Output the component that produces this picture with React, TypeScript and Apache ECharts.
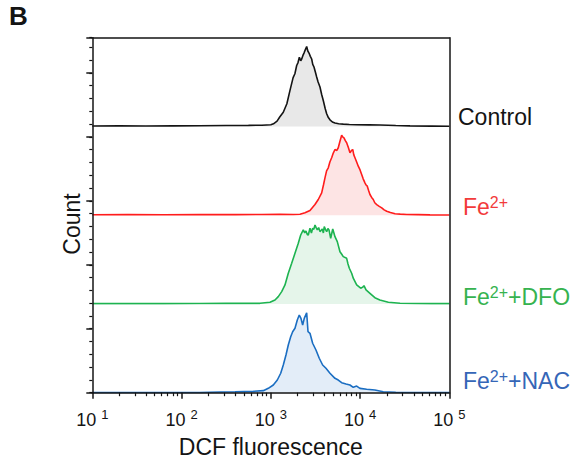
import React, { useEffect, useRef } from 'react';
import * as echarts from 'echarts';

// ---- data (x = log10 of DCF fluorescence, y = relative count, % of panel) ----
const ctrlLog = [1.0, 1.3, 1.6, 1.9, 2.2, 2.5, 2.75, 2.9, 3.0, 3.03, 3.07, 3.1, 3.14, 3.18, 3.215, 3.25, 3.27, 3.29, 3.305, 3.32, 3.335, 3.346, 3.36, 3.372, 3.385, 3.402, 3.415, 3.428, 3.443, 3.458, 3.47, 3.484, 3.5, 3.514, 3.53, 3.551, 3.57, 3.588, 3.61, 3.626, 3.645, 3.663, 3.69, 3.719, 3.76, 3.812, 3.88, 3.962, 4.1, 4.224, 4.4, 4.56, 4.8, 5.0];
const ctrlCount = [0.5, 0.6, 0.5, 0.7, 0.8, 1.0, 1.2, 1.4, 2.0, 3.0, 6.0, 10.6, 16, 25.6, 40.6, 55, 59.4, 68.7, 72, 78, 74, 76, 80, 82.7, 86, 90, 85, 82.7, 79, 76, 70, 67, 61, 55.7, 50, 44.4, 36, 29.3, 20, 14.3, 10, 7.5, 5, 3.8, 3.0, 2.6, 2.2, 1.9, 1.8, 1.6, 1.0, 0.6, 0.4, 0.3];

const feLog = [1.0, 1.4, 1.8, 2.2, 2.6, 2.9, 3.1, 3.25, 3.327, 3.383, 3.439, 3.495, 3.532, 3.57, 3.59, 3.607, 3.625, 3.644, 3.662, 3.682, 3.70, 3.719, 3.74, 3.756, 3.775, 3.794, 3.808, 3.820, 3.835, 3.850, 3.87, 3.887, 3.905, 3.918, 3.93, 3.943, 3.962, 3.980, 4.0, 4.018, 4.035, 4.055, 4.068, 4.081, 4.095, 4.111, 4.13, 4.148, 4.165, 4.187, 4.215, 4.243, 4.27, 4.299, 4.34, 4.392, 4.45, 4.523, 4.65, 4.784, 5.0];
const feCount = [0.5, 0.6, 0.5, 0.6, 0.7, 0.8, 0.9, 0.8, 1.0, 2.7, 5.3, 12, 17.7, 25.2, 34, 42, 50, 53.4, 60, 64.7, 70, 74, 73, 76, 83.4, 90, 88, 87.2, 84, 81.6, 76, 70.3, 73, 74, 68, 64.7, 60, 55.2, 51, 45.9, 41, 36.5, 34, 32.7, 28, 23.3, 20, 17.7, 14, 12, 10, 8.3, 6, 4.5, 3, 1.6, 1.2, 0.8, 0.6, 0.4, 0.3];

const dfoLog = [1.0, 1.4, 1.8, 2.2, 2.5, 2.75, 2.879, 2.991, 3.047, 3.084, 3.122, 3.159, 3.196, 3.234, 3.271, 3.308, 3.335, 3.364, 3.38, 3.394, 3.41, 3.420, 3.439, 3.455, 3.469, 3.482, 3.495, 3.508, 3.521, 3.536, 3.551, 3.565, 3.577, 3.589, 3.599, 3.612, 3.626, 3.64, 3.652, 3.671, 3.694, 3.707, 3.719, 3.745, 3.775, 3.795, 3.812, 3.850, 3.865, 3.880, 3.906, 3.924, 3.962, 4.007, 4.03, 4.044, 4.067, 4.111, 4.166, 4.222, 4.317, 4.448, 4.6, 4.8, 5.0];
const dfoCount = [0.4, 0.5, 0.4, 0.5, 0.6, 0.6, 0.7, 1.9, 4.5, 8.3, 13.9, 21.4, 34.6, 45.9, 57.1, 68.4, 77.7, 83.4, 80, 82.3, 78, 77.7, 85.3, 80, 85.3, 84, 89, 86, 83.4, 86, 81.5, 83, 84.5, 80, 87.1, 84, 81.5, 85, 83.4, 74, 84.5, 80, 75.8, 70.2, 58.9, 56, 53.3, 51.4, 45, 40.2, 34.6, 29, 21.4, 17.7, 19, 20.6, 15.8, 12, 7.1, 4.5, 1.9, 0.8, 0.5, 0.4, 0.4];

const nacLog = [1.0, 1.4, 1.8, 2.2, 2.431, 2.6, 2.804, 2.916, 2.972, 3.028, 3.073, 3.111, 3.140, 3.170, 3.196, 3.223, 3.245, 3.271, 3.297, 3.319, 3.338, 3.357, 3.375, 3.402, 3.417, 3.439, 3.469, 3.506, 3.543, 3.581, 3.618, 3.663, 3.719, 3.756, 3.794, 3.843, 3.887, 3.924, 3.962, 3.999, 4.074, 4.166, 4.260, 4.4, 4.6, 4.8, 5.0];
const nacCount = [0.2, 0.3, 0.2, 0.3, 0.8, 1.0, 1.5, 2.3, 4.9, 8.7, 14.3, 21.9, 31.2, 42.5, 53.7, 63.1, 68.7, 72.6, 81.9, 87.5, 83.8, 76.3, 83.8, 90.1, 68.7, 66.9, 55.7, 48.1, 38.8, 31.2, 27.5, 21.9, 16.2, 14.3, 11.3, 9.8, 8.7, 6.1, 7.5, 4.9, 3.8, 3.0, 1.1, 0.5, 0.3, 0.2, 0.2];

const decades = [1, 2, 3, 4];
const minorMultipliers = [2, 3, 4, 5, 6, 7, 8, 9];
const xMin = 1;
const xMax = 5;
const countAxisMax = 5.55;

const lineColors = ['#141414', '#ff1c1c', '#1db350', '#1b6ec2'];
const fillColors = ['#e8e8e8', '#fde4e4', '#e5f5ea', '#e3edf8'];
const labelColors = ['#141414', '#f23b3b', '#36b34f', '#3566b7'];

const FONT = '"Liberation Sans", Arial, Helvetica, sans-serif';

export default function App() {
  const ref = useRef<HTMLDivElement>(null);

  useEffect(() => {
    if (!ref.current) return;
    const chart = echarts.init(ref.current, undefined, { renderer: 'svg' });

    const L = 92.3, R = 449.3, T = 37.7, B = 392.7;
    const W = R - L;
    const pH = (B - T) / 4;
    const ink = '#141414';
    const axisLS = { color: ink, width: 1.5 };

    const seriesDefs = [
      [ctrlLog, ctrlCount],
      [feLog, feCount],
      [dfoLog, dfoCount],
      [nacLog, nacCount],
    ];

    const minorTickExp: number[] = [];
    decades.forEach((d) => minorMultipliers.forEach((m) => minorTickExp.push(d + Math.log10(m))));

    const grids: any[] = [0, 1, 2, 3].map((i) => ({ left: L, width: W, top: T + i * pH, height: pH }));
    grids.push({ left: L, width: W, top: T, height: B - T }); // 4 frame + minor y ticks
    grids.push({ left: L, width: W, top: T + 3 * pH, height: pH }); // 5 x minor ticks
    grids.push({ left: L, width: W, top: T, height: B - T }); // 6 major y ticks

    const xAxis: any[] = [0, 1, 2].map((i) => ({ type: 'value', gridIndex: i, min: xMin, max: xMax, show: false }));
    xAxis.push({
      type: 'value', gridIndex: 3, min: xMin, max: xMax, interval: 1, z: 10,
      axisLine: { show: true, onZero: false, lineStyle: axisLS },
      axisTick: { show: true, length: 6, lineStyle: axisLS },
      splitLine: { show: false },
      axisLabel: {
        margin: 17,
        formatter: (v: number) => `{b|10}{s|${Math.round(v)}}`,
        rich: {
          b: { fontSize: 18, color: ink, fontFamily: FONT, lineHeight: 20 },
          s: { fontSize: 13, color: ink, fontFamily: FONT, verticalAlign: 'top', height: 10, padding: [0, 0, 0, 5] },
        },
      },
      name: 'DCF fluorescence', nameLocation: 'middle', nameGap: 43,
      nameTextStyle: { fontSize: 23, color: ink, fontFamily: FONT },
    });
    xAxis.push({
      type: 'value', gridIndex: 4, position: 'top', min: 0, max: 1, z: 10,
      axisLine: { show: true, onZero: false, lineStyle: axisLS },
      axisTick: { show: false }, axisLabel: { show: false }, splitLine: { show: false },
    });
    xAxis.push({
      type: 'value', gridIndex: 5, min: xMin, max: xMax, z: 10,
      axisLine: { show: false, onZero: false },
      axisTick: { show: true, length: 3.5, customValues: minorTickExp, lineStyle: { color: ink, width: 1.2 } },
      axisLabel: { show: false }, splitLine: { show: false },
    });
    xAxis.push({ type: 'value', gridIndex: 6, min: 0, max: 1, show: false });

    const yAxis: any[] = [0, 1, 2, 3].map((i) => ({ type: 'value', gridIndex: i, min: 0, max: 100, show: false }));
    yAxis.push({
      type: 'value', gridIndex: 4, position: 'left', min: 0, max: countAxisMax, interval: 0.2, z: 10,
      axisLine: { show: true, onZero: false, lineStyle: axisLS },
      axisTick: { show: true, length: 3, lineStyle: { color: ink, width: 1.2 } },
      axisLabel: { show: false }, splitLine: { show: false },
    });
    yAxis.push({
      type: 'value', gridIndex: 4, position: 'right', min: 0, max: countAxisMax, z: 10,
      axisLine: { show: true, onZero: false, lineStyle: axisLS },
      axisTick: { show: false }, axisLabel: { show: false }, splitLine: { show: false },
    });
    yAxis.push({ type: 'value', gridIndex: 5, min: 0, max: 1, show: false });
    yAxis.push({
      type: 'value', gridIndex: 6, position: 'left', min: 0, max: countAxisMax, interval: 1, z: 10,
      axisLine: { show: false, onZero: false },
      axisTick: { show: true, length: 6, lineStyle: axisLS },
      axisLabel: { show: false }, splitLine: { show: false },
    });

    const series = seriesDefs.map(([xs, ys], i) => ({
      type: 'line',
      name: ['Control', 'Fe2+', 'Fe2++DFO', 'Fe2++NAC'][i],
      xAxisIndex: i,
      yAxisIndex: i,
      data: xs.map((x, k) => [x, ys[k]]),
      showSymbol: false,
      symbol: 'none',
      silent: true,
      z: 3,
      lineStyle: { color: lineColors[i], width: 1.6 },
      areaStyle: { color: fillColors[i], opacity: 1 },
    }));

    const supRich = (color: string) => ({
      a: { fontSize: 23, fill: color, fontFamily: FONT, lineHeight: 24 },
      s: { fontSize: 16, fill: color, fontFamily: FONT, verticalAlign: 'top', height: 14 },
    });
    const labelTexts = ['{a|Control}', '{a|Fe}{s|2+}', '{a|Fe}{s|2+}{a|+DFO}', '{a|Fe}{s|2+}{a|+NAC}'];
    const labelX = [458, 463, 463, 463];
    const labelY = [117, 207, 297, 381];

    const graphic: any[] = [
      {
        type: 'text', x: 9, y: 16,
        style: { text: 'B', fontSize: 26, fontWeight: 'bold', fill: ink, fontFamily: FONT, verticalAlign: 'middle' },
      },
      {
        type: 'text', x: 72, y: 224, rotation: Math.PI / 2,
        style: { text: 'Count', fontSize: 23, fill: ink, fontFamily: FONT, align: 'center', verticalAlign: 'middle' },
      },
      ...labelTexts.map((t, i) => ({
        type: 'text', x: labelX[i], y: labelY[i],
        style: { text: t, rich: supRich(labelColors[i]), fill: labelColors[i], fontFamily: FONT, fontSize: 23, verticalAlign: 'middle' },
      })),
    ];

    chart.setOption({
      animation: false,
      backgroundColor: '#ffffff',
      grid: grids,
      xAxis,
      yAxis,
      series,
      graphic,
    });

    return () => chart.dispose();
  }, []);

  return <div ref={ref} style={{ position: 'fixed', left: 0, top: 0, width: 574, height: 466 }} />;
}
